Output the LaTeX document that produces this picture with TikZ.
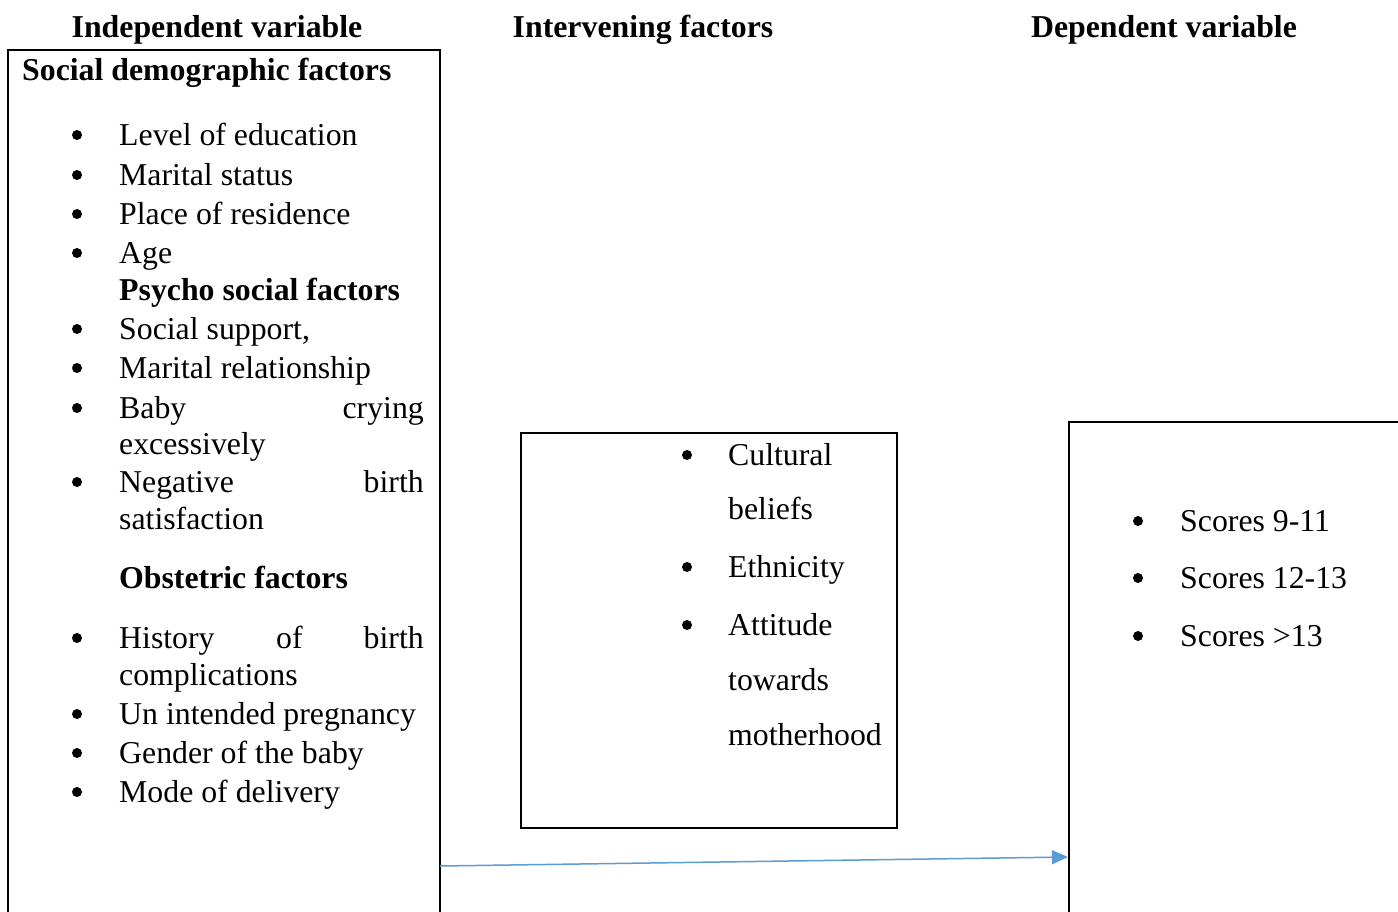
\documentclass[tikz,border=0pt]{standalone}
\usepackage{fontspec}
\setmainfont{Liberation Serif}
\usetikzlibrary{arrows.meta}
\definecolor{linkblue}{RGB}{91,155,213}
\tikzset{
	txt/.style={anchor=base west,inner sep=0pt,font=\fontsize{31.8}{38}\selectfont},
	txtr/.style={anchor=base east,inner sep=0pt,font=\fontsize{31.8}{38}\selectfont},
	bold/.style={txt,font=\fontsize{31.8}{38}\selectfont\bfseries},
	head/.style={anchor=base,inner sep=0pt,font=\fontsize{31.8}{38}\selectfont\bfseries},
	dot/.style={circle,fill,inner sep=0pt,minimum size=10pt,yshift=10pt},
	frame/.style={line width=2pt},
	link/.style={draw=linkblue,line width=1.5pt,-{Triangle[length=16pt,width=14pt,fill=linkblue]}}
}
\begin{document}
\begin{tikzpicture}[x=1pt,y=-1pt]
	\useasboundingbox (0,0) rectangle (1398,911);
	%headings
	\node[head] (h_ind) at (217,37) {Independent variable};
	\node[head] (h_int) at (643,37) {Intervening factors};
	\node[head] (h_dep) at (1164,37) {Dependent variable};
	
	%frames
	\draw[frame] (8,915) -- (8,50) -- (440,50) -- (440,915);
	\draw[frame] (521,433) rectangle (897,828);
	\draw[frame] (1069,915) -- (1069,422) -- (1402,422);
	
	%independent variable
	\node[bold] (sdf) at (22,80) {Social demographic factors};
	\node[dot] (b_1) at (77,145) {}; \node[txt] (edu) at (119,145) {Level of education};
	\node[dot] (b_2) at (77,185) {}; \node[txt] (mar) at (119,185) {Marital status};
	\node[dot] (b_3) at (77,224) {}; \node[txt] (res) at (119,224) {Place of residence};
	\node[dot] (b_4) at (77,263) {}; \node[txt] (age) at (119,263) {Age};
	\node[bold] (psf) at (119,300) {Psycho social factors};
	\node[dot] (b_5) at (77,339) {}; \node[txt] (sup) at (119,339) {Social support,};
	\node[dot] (b_6) at (77,378) {}; \node[txt] (rel) at (119,378) {Marital relationship};
	\node[dot] (b_7) at (77,418) {}; \node[txt] (baby) at (119,418) {Baby};
	\node[txtr] (cry) at (424,418) {crying};
	\node[txt] (exc) at (119,454) {excessively};
	\node[dot] (b_8) at (77,492) {}; \node[txt] (neg) at (119,492) {Negative};
	\node[txtr] (birth) at (424,492) {birth};
	\node[txt] (sat) at (119,529) {satisfaction};
	\node[bold] (obf) at (119,588) {Obstetric factors};
	\node[dot] (b_9) at (77,648) {}; \node[txt] (his) at (119,648) {History};
	\node[txt] (of) at (276,648) {of};
	\node[txtr] (birth2) at (424,648) {birth};
	\node[txt] (comp) at (119,685) {complications};
	\node[dot] (b_10) at (77,724) {}; \node[txt] (unp) at (119,724) {Un intended pregnancy};
	\node[dot] (b_11) at (77,763) {}; \node[txt] (gen) at (119,763) {Gender of the baby};
	\node[dot] (b_12) at (77,802) {}; \node[txt] (mode) at (119,802) {Mode of delivery};
	
	%intervening factors
	\node[dot] (c_1) at (687,465) {}; \node[txt] (cul) at (728,465) {Cultural};
	\node[txt] (bel) at (728,519) {beliefs};
	\node[dot] (c_2) at (687,577) {}; \node[txt] (eth) at (728,577) {Ethnicity};
	\node[dot] (c_3) at (687,635) {}; \node[txt] (att) at (728,635) {Attitude};
	\node[txt] (tow) at (728,690) {towards};
	\node[txt] (mot) at (728,745) {motherhood};
	
	%dependent variable
	\node[dot] (d_1) at (1138,531) {}; \node[txt] (s_1) at (1180,531) {Scores 9-11};
	\node[dot] (d_2) at (1138,588) {}; \node[txt] (s_2) at (1180,588) {Scores 12-13};
	\node[dot] (d_3) at (1138,646) {}; \node[txt] (s_3) at (1180,646) {Scores >13};
	
	\coordinate (ind_out) at (440,866);
	\coordinate (dep_in) at (1068,857);
	\draw[link] (ind_out) -- (dep_in);
\end{tikzpicture}
\end{document}
